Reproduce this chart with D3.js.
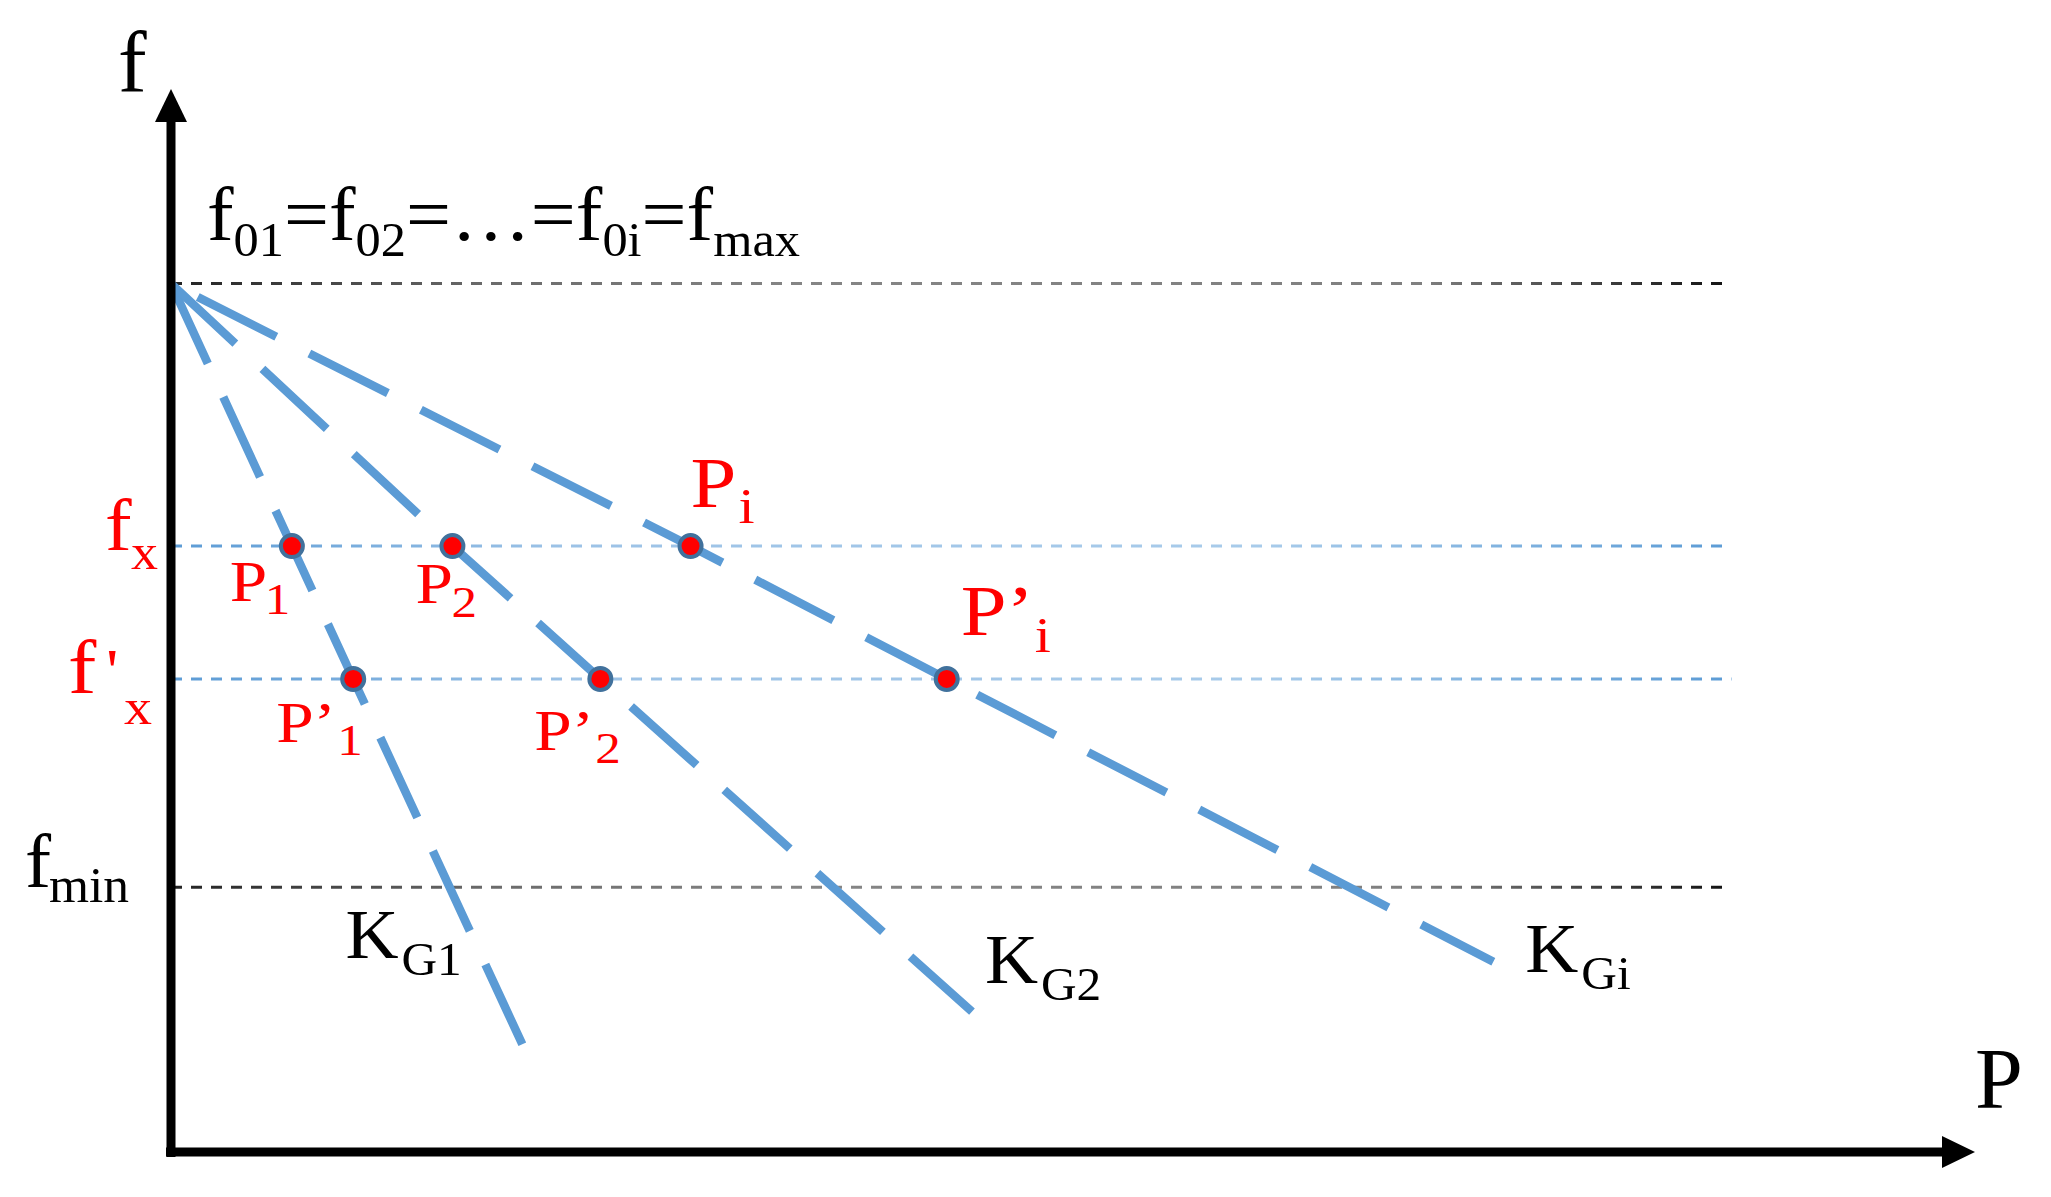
<!DOCTYPE html>
<html>
<head>
<meta charset="utf-8">
<script src="https://cdn.jsdelivr.net/npm/d3@7"></script>
<style>
  html, body { margin: 0; padding: 0; background: #fff; }
  svg text { font-family: "Liberation Serif", "Times New Roman", serif; }
</style>
</head>
<body>
<svg id="chart" width="2051" height="1197"></svg>
<script>
// ---------------- data ----------------
const fMax = 81.7;          // f01 = f02 = ... = f0i = fmax
const fX = 57.0;            // fx
const fXp = 44.5;           // f'x
const fMin = 24.9;          // fmin

const droopNames = ["G1", "G2", "Gi"];          // K_G1, K_G2, K_Gi
const pAtFx   = [6.7, 15.6, 28.8];              // P1, P2, Pi
const pAtFxp  = [10.1, 23.8, 43.0];             // P'1, P'2, P'i
const pEnd    = [19.7, 44.4, 73.3];             // end of each droop line
const fEnd    = [9.3, 13.2, 17.9];

const refLevels = [fMax, fX, fXp, fMin];
const refKinds  = ["black", "blue", "blue", "black"];
const refPEnd   = [86.0, 86.0, 86.5, 86.2];

const pointSubs = ["1", "2", "i"];

// ---------------- layout ----------------
const svg = d3.select("#chart");
const x = d3.scaleLinear().domain([0, 100]).range([171, 1975]);
const y = d3.scaleLinear().domain([0, 100]).range([1152, 89]);

const defs = svg.append("defs");
function grad(id, stops) {
  const g = defs.append("linearGradient").attr("id", id)
    .attr("gradientUnits", "userSpaceOnUse")
    .attr("x1", x(0)).attr("x2", x(86.5)).attr("y1", 0).attr("y2", 0);
  stops.forEach(s => g.append("stop").attr("offset", s[0]).attr("stop-color", s[1]));
}
grad("gBlack", [[0, "#222"], [0.2, "#6a6a6a"], [0.4, "#858585"], [0.8, "#808080"], [1, "#111"]]);
grad("gBlue", [[0, "#5b9bd5"], [0.25, "#9cc2e6"], [0.7, "#a8cbea"], [1, "#5b9bd5"]]);

// reference lines
svg.append("g").selectAll("line").data(refLevels).join("line")
  .attr("x1", x(0)).attr("x2", (d, i) => x(refPEnd[i]))
  .attr("y1", d => y(d)).attr("y2", d => y(d))
  .attr("stroke", (d, i) => refKinds[i] === "black" ? "url(#gBlack)" : "url(#gBlue)")
  .attr("stroke-width", 3)
  .attr("stroke-dasharray", "11,9");

// droop lines
const dashOffset = [0, 0, 95];
const line = d3.line().x(d => x(d[0])).y(d => y(d[1]));
svg.append("g").selectAll("path").data(droopNames).join("path")
  .attr("d", (d, i) => line([[0, fMax], [pAtFx[i], fX], [pAtFxp[i], fXp], [pEnd[i], fEnd[i]]]))
  .attr("fill", "none")
  .attr("stroke", "#5b9bd5")
  .attr("stroke-width", 8.5)
  .attr("stroke-dasharray", "88,37")
  .attr("stroke-dashoffset", (d, i) => dashOffset[i]);

// axes
const axisG = svg.append("g");
axisG.append("line").attr("x1", x(0)).attr("x2", x(0)).attr("y1", y(0) + 5).attr("y2", y(100) + 30)
  .attr("stroke", "#000").attr("stroke-width", 9);
axisG.append("path")
  .attr("d", `M${x(0)},${y(100)} L${x(0) - 16},${y(100) + 33} L${x(0) + 16},${y(100) + 33} Z`)
  .attr("fill", "#000");
axisG.append("line").attr("x1", x(0) - 5).attr("x2", x(100) - 30).attr("y1", y(0)).attr("y2", y(0))
  .attr("stroke", "#000").attr("stroke-width", 9);
axisG.append("path")
  .attr("d", `M${x(100)},${y(0)} L${x(100) - 33},${y(0) - 16} L${x(100) - 33},${y(0) + 16} Z`)
  .attr("fill", "#000");

// markers
const pts = [];
pAtFx.forEach((p, i) => pts.push({ p: p, f: fX, prime: false, sub: pointSubs[i] }));
pAtFxp.forEach((p, i) => pts.push({ p: p, f: fXp, prime: true, sub: pointSubs[i] }));
svg.append("g").selectAll("circle").data(pts).join("circle")
  .attr("cx", d => x(d.p)).attr("cy", d => y(d.f)).attr("r", 11)
  .attr("fill", "#ff0000").attr("stroke", "#41719c").attr("stroke-width", 4);

// ---------------- text ----------------
// parts: dx/dy are final pixel offsets from (px, py); sx stretches glyphs horizontally
function label(px, py, parts, color, sx) {
  sx = sx || 1;
  const g = svg.append("g").attr("transform", `translate(${px},${py}) scale(${sx},1)`);
  const t = g.append("text").attr("fill", color || "#000");
  parts.forEach(pt => {
    t.append("tspan").text(pt.t).attr("font-size", pt.s)
      .attr("x", pt.dx / sx).attr("y", pt.dy || 0);
  });
  return t;
}

// axis names
svg.append("text").attr("x", 118).attr("y", 91).attr("font-size", 86).text("f");
svg.append("text").attr("x", 1975).attr("y", 1108).attr("font-size", 86).text("P");

// title f01=f02=…=f0i=fmax
(function () {
  const t = svg.append("text").attr("x", 207).attr("y", 240).attr("font-size", 76)
    .attr("textLength", 593).attr("lengthAdjust", "spacingAndGlyphs");
  const parts = [["f", 0], ["01", 1], ["=f", 0], ["02", 1], ["=…=f", 0], ["0i", 1], ["=f", 0], ["max", 1]];
  let prevSub = 0;
  parts.forEach(p => {
    const s = t.append("tspan").text(p[0]);
    const dy = p[1] ? 16 : (prevSub ? -16 : 0);
    if (dy) s.attr("dy", dy);
    if (p[1]) s.attr("font-size", 48);
    prevSub = p[1];
  });
})();

// fx, f'x, fmin
label(105, y(fX) + 4, [{ t: "f", s: 74, dx: 0 }, { t: "x", s: 50, dx: 26, dy: 19 }], "#ff0000", 1.08);
label(68, y(fXp) + 14, [{ t: "f", s: 76, dx: 0 }, { t: "'", s: 62, dx: 38, dy: -2 }, { t: "x", s: 50, dx: 56, dy: 31 }], "#ff0000", 1.12);
label(25, y(fMin) + 0, [{ t: "f", s: 76, dx: 0 }, { t: "min", s: 50, dx: 24, dy: 15 }], "#000", 1.03);

// point labels
const ptOff = [
  { dx: -62, dy: 55, s: 58, ss: 44, sx: 35, sy: 13 },
  { dx: -37, dy: 57, s: 58, ss: 44, sx: 36, sy: 14 },
  { dx: 0,   dy: -39, s: 71, ss: 50, sx: 48, sy: 16 },
  { dx: -77, dy: 63, s: 58, ss: 44, sx: 61, sy: 13 },
  { dx: -66, dy: 71, s: 58, ss: 44, sx: 61, sy: 13 },
  { dx: 14,  dy: -44, s: 71, ss: 50, sx: 74, sy: 17 }
];
pts.forEach((d, i) => {
  const o = ptOff[i];
  const px = x(d.p) + o.dx, py = y(d.f) + o.dy;
  const parts = [{ t: d.prime ? "P’" : "P", s: o.s, dx: 0 }];
  parts.push({ t: d.sub, s: o.ss, dx: o.sx, dy: o.sy });
  label(px, py, parts, "#ff0000", 1.16);
});

// droop line labels
const kOff = [{ dx: -181, dy: -95 }, { dx: 13, dy: -29 }, { dx: 32, dy: 10 }];
droopNames.forEach((n, i) => {
  const px = x(pEnd[i]) + kOff[i].dx, py = y(fEnd[i]) + kOff[i].dy;
  label(px, py, [{ t: "K", s: 70, dx: 0 }, { t: n, s: 47, dx: 56, dy: 17 }], "#000", 1.05);
});
</script>
</body>
</html>
